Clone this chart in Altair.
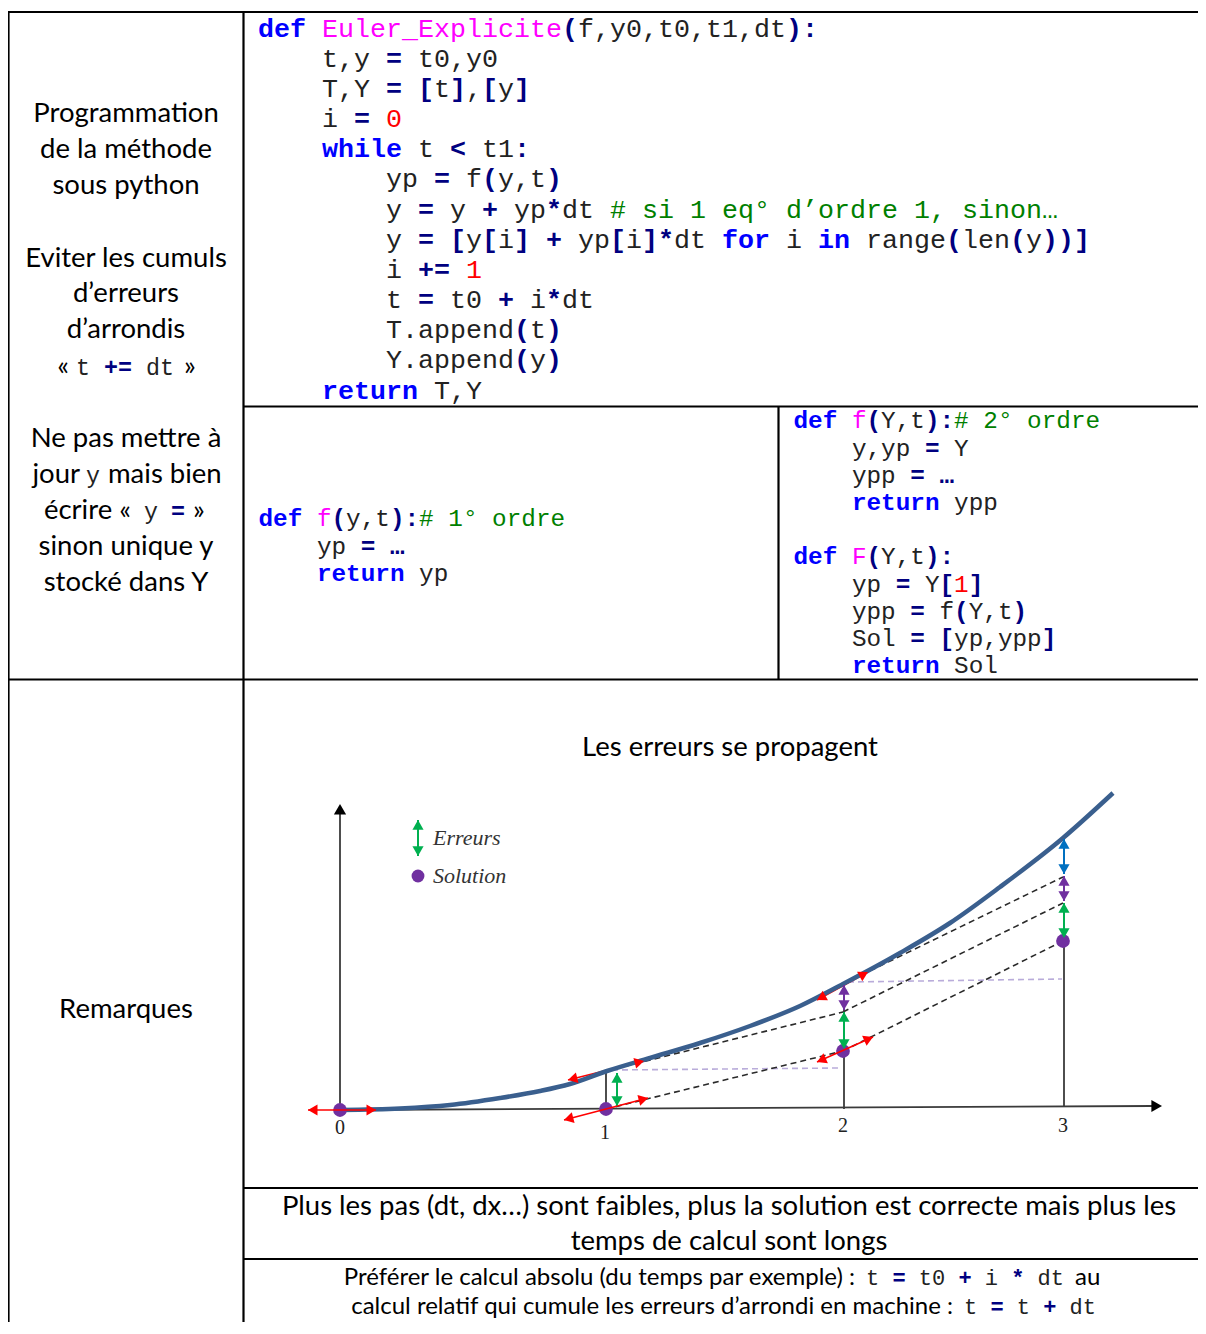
import math
import re
import altair as alt
import pandas as pd

# ======================= DATA (texts) =======================
code_main = [
    "def Euler_Explicite(f,y0,t0,t1,dt):",
    "    t,y = t0,y0",
    "    T,Y = [t],[y]",
    "    i = 0",
    "    while t < t1:",
    "        yp = f(y,t)",
    "        y = y + yp*dt # si 1 eq° d’ordre 1, sinon…",
    "        y = [y[i] + yp[i]*dt for i in range(len(y))]",
    "        i += 1",
    "        t = t0 + i*dt",
    "        T.append(t)",
    "        Y.append(y)",
    "    return T,Y",
]
code_order1 = ["def f(y,t):# 1° ordre", "    yp = …", "    return yp"]
code_order2 = [
    "def f(Y,t):# 2° ordre",
    "    y,yp = Y",
    "    ypp = …",
    "    return ypp",
    "",
    "def F(Y,t):",
    "    yp = Y[1]",
    "    ypp = f(Y,t)",
    "    Sol = [yp,ypp]",
    "    return Sol",
]

left_notes_a = ["Programmation", "de la méthode", "sous python"]
left_notes_b = ["Eviter les cumuls", "d’erreurs", "d’arrondis"]
left_note_b_code = ["«", "t += dt", "»"]
left_notes_c = ["Ne pas mettre à"]
left_note_c1 = ["jour", "y", "mais bien"]
left_note_c2 = ["écrire «", "y", "=", "»"]
left_notes_d = ["sinon unique y", "stocké dans Y"]
remarks_label = "Remarques"
chart_title = "Les erreurs se propagent"
remark_steps = [
    "Plus les pas (dt, dx…) sont faibles, plus la solution est correcte mais plus les",
    "temps de calcul sont longs",
]
remark_abs = ["Préférer le calcul absolu (du temps par exemple) :", "t = t0 + i * dt", "au"]
remark_rel = ["calcul relatif qui cumule les erreurs d’arrondi en machine :", "t = t + dt"]

legend_labels = ["Erreurs", "Solution"]
tick_labels = ["0", "1", "2", "3"]

# ================= DATA (diagram, drawing units) =================
curve_x = [340, 400, 450, 500, 540, 570, 607, 650, 700, 750, 800, 843, 900, 950, 1000, 1063, 1113]
curve_y = [1110, 1108.5, 1105, 1098, 1091, 1084, 1071, 1058, 1043, 1026, 1006, 984, 953, 923, 887, 838, 793]
solution_x = [340, 606, 843, 1063]
solution_y = [1110, 1109, 1051, 941]
tick_label_x = [340, 605, 843, 1063]
tick_label_y = [1134, 1139, 1132, 1132]
# Euler steps (dashed black)
step_x1 = [606, 843, 606, 843, 843]
step_y1 = [1109, 1051, 1071, 1012, 984]
step_x2 = [843, 1063, 843, 1063, 1063]
step_y2 = [1051, 941, 1012, 903, 877]
# reference levels (dashed lavender)
level_x1 = [612, 848]
level_y1 = [1070, 982]
level_x2 = [840, 1062]
level_y2 = [1068, 979]
# vertical lines at the steps
stem_x = [606, 844, 1064]
stem_y1 = [1109, 1109, 1106]
stem_y2 = [1071, 985, 941]
# red tangent arrows: start, end
tan_x1 = [308, 564, 568, 817, 817]
tan_y1 = [1110, 1120, 1080, 1062, 1000]
tan_x2 = [376, 648, 644, 873, 868]
tan_y2 = [1110, 1098, 1061, 1037, 972]
tan_under_curve = [False, False, True, False, True]
# error arrows: x, top, bottom, kind
err_x = [617, 844, 844, 1064, 1064, 1064, 418]
err_top = [1073, 985, 1012, 839, 876, 903, 820]
err_bot = [1106, 1010, 1049, 874, 901, 938, 856]
err_kind = ["green", "purple", "green", "blue", "purple", "green", "green"]
legend_dot = (418, 876)

# ======================= STYLES =======================
MONO = "Courier New, Nimbus Mono PS, FreeMono, Liberation Mono, monospace"
SANS = "Lato"
SERIF = "Liberation Serif"
STYLE = {
    "kw": ("#0000FF", True),
    "op": ("#000080", True),
    "fn": ("#FF00FF", False),
    "num": ("#FF0000", False),
    "cm": ("#008000", False),
    "tx": ("#222222", False),
}
ERR_COL = {"green": "#00B050", "purple": "#7030A0", "blue": "#0070C0"}
KW = {"def", "while", "return", "for", "in"}
OPS = set("=+*<()[]:…")


def style_chars(line):
    styles = ["tx"] * len(line)
    ci = line.find("#")
    end = ci if ci >= 0 else len(line)
    prev = None
    for m in re.finditer(r"[A-Za-z_][A-Za-z0-9_]*|\d+|\S", line[:end]):
        tok = m.group()
        if tok in KW:
            st = "kw"
        elif prev == "def":
            st = "fn"
        elif tok.isdigit():
            st = "num"
        elif tok in OPS:
            st = "op"
        else:
            st = "tx"
        for k in range(m.start(), m.end()):
            styles[k] = st
        prev = tok
    if ci >= 0:
        for k in range(ci, len(line)):
            styles[k] = "cm"
    return styles


def mono_tokens(line, x0, y, cw, size):
    rows = []
    styles = style_chars(line)
    i, n = 0, len(line)
    while i < n:
        if line[i] == " ":
            i += 1
            continue
        j = i
        while j < n and line[j] != " " and styles[j] == styles[i]:
            j += 1
        col, bold = STYLE[styles[i]]
        rows.append(dict(x=x0 + i * cw, y=y, text=line[i:j], color=col, isbold=bold, size=size))
        i = j
    return rows


mono_rows = []
for k, ln in enumerate(code_main):
    mono_rows += mono_tokens(ln, 258, 36.5 + 30.17 * k, 16, 26.67)
for k, ln in enumerate(code_order1):
    mono_rows += mono_tokens(ln, 258.5, 526 + 27.5 * k, 14.6, 24.33)
for k, ln in enumerate(code_order2):
    mono_rows += mono_tokens(ln, 793.5, 428.3 + 27.2 * k, 14.6, 24.33)
# inline code pieces
mono_rows += mono_tokens(left_note_b_code[1], 76, 375, 14, 23.33)
mono_rows += mono_tokens(left_note_c1[1], 86, 483, 14, 23.33)
mono_rows += mono_tokens(left_note_c2[1], 144, 519, 14, 23.33)
mono_rows += mono_tokens(left_note_c2[2], 171, 519, 14, 23.33)
mono_rows += mono_tokens(remark_abs[1], 866, 1285, 13.2, 22)
mono_rows += mono_tokens(remark_rel[1], 964, 1314, 13.2, 22)
mono_df = pd.DataFrame(mono_rows)

SZ = 27.5
sans_rows = []  # x, y, text, anchor, size


def sans(x, y, text, anchor="center", size=SZ):
    sans_rows.append(dict(x=x, y=y, text=text, anchor=anchor, size=size, color="#000000"))


for k, t in enumerate(left_notes_a):
    sans(126, 122 + 36 * k, t)
for k, t in enumerate(left_notes_b):
    sans(126, 266.5 + 35.8 * k, t)
sans(69, 375, left_note_b_code[0], "right")
sans(184, 375, left_note_b_code[2], "left")
for k, t in enumerate(left_notes_c):
    sans(126, 447, t)
sans(80, 483, left_note_c1[0], "right")
sans(108, 483, left_note_c1[2], "left")
sans(131, 519, left_note_c2[0], "right")
sans(193, 519, left_note_c2[3], "left")
for k, t in enumerate(left_notes_d):
    sans(126, 555 + 36 * k, t)
sans(126, 1018, remarks_label)
sans(730, 756, chart_title)
for k, t in enumerate(remark_steps):
    sans(729, 1215 + 35 * k, t)
sans(855, 1285, remark_abs[0], "right", 24)
sans(1075, 1285, remark_abs[2], "left", 24)
sans(953, 1314, remark_rel[0], "right", 24)
sans_df = pd.DataFrame(sans_rows)

# table grid
grid_df = pd.DataFrame(
    dict(
        x=[8.5, 7.5, 243.5, 243.5, 778.5, 7.5, 243.5, 243.5],
        x2=[8.5, 1198, 243.5, 1198, 778.5, 1198, 1198, 1198],
        y=[11.5, 12, 12, 406.5, 406.5, 679.5, 1188, 1259],
        y2=[1322, 12, 1322, 406.5, 679.5, 679.5, 1188, 1259],
    )
)

# ---------- diagram tables ----------
heads = []  # x, y, angle, color, size


def head(xt, yt, ux, uy, color, size):
    """triangle whose tip is at (xt, yt), pointing along (ux, uy) (screen coords)"""
    n = math.hypot(ux, uy)
    ux, uy = ux / n, uy / n
    h = 0.866 * math.sqrt(size) / 2
    ang = math.degrees(math.atan2(ux, -uy)) % 360
    heads.append(dict(x=xt - ux * h, y=yt - uy * h, angle=ang, color=color, size=size))


axis_df = pd.DataFrame(dict(x=[340, 340], y=[1110, 1110], x2=[1152, 340], y2=[1106, 812]))
head(1162, 1106, 1, 0, "#000000", 150)
head(340, 804, 0, -1, "#000000", 150)

tan_rows = []
for i in range(len(tan_x1)):
    x1, y1, x2, y2 = tan_x1[i], tan_y1[i], tan_x2[i], tan_y2[i]
    tan_rows.append(dict(x=x1, y=y1, x2=x2, y2=y2, under=tan_under_curve[i]))
    head(x2, y2, x2 - x1, y2 - y1, "#FF0000", 120)
    head(x1, y1, x1 - x2, y1 - y2, "#FF0000", 120)
tan_df = pd.DataFrame(tan_rows)

err_rows = []
for i in range(len(err_x)):
    col = ERR_COL[err_kind[i]]
    err_rows.append(dict(x=err_x[i], y=err_top[i], x2=err_x[i], y2=err_bot[i], color=col))
    head(err_x[i], err_top[i], 0, -1, col, 125)
    head(err_x[i], err_bot[i], 0, 1, col, 125)
err_df = pd.DataFrame(err_rows)
heads_df = pd.DataFrame(heads)

curve_df = pd.DataFrame(dict(x=curve_x, y=curve_y))
sol_df = pd.DataFrame(dict(x=solution_x, y=solution_y))
legend_dot_df = pd.DataFrame(dict(x=[legend_dot[0]], y=[legend_dot[1]]))
steps_df = pd.DataFrame(dict(x=step_x1, y=step_y1, x2=step_x2, y2=step_y2))
levels_df = pd.DataFrame(dict(x=level_x1, y=level_y1, x2=level_x2, y2=level_y2))
stems_df = pd.DataFrame(dict(x=stem_x, y=stem_y1, x2=stem_x, y2=stem_y2))
ticks_df = pd.DataFrame(dict(x=tick_label_x, y=tick_label_y, text=tick_labels))
legend_df = pd.DataFrame(dict(x=[433, 433], y=[845, 883], text=legend_labels))

# ======================= CHART =======================
XS = alt.Scale(domain=[8, 1198], nice=False, zero=False)
YS = alt.Scale(domain=[8, 1322], nice=False, zero=False, reverse=True)
X = alt.X("x:Q", scale=XS, axis=None)
Y = alt.Y("y:Q", scale=YS, axis=None)
X2 = alt.X2("x2:Q")
Y2 = alt.Y2("y2:Q")


def rules(df, **kw):
    return alt.Chart(df).mark_rule(**kw).encode(x=X, y=Y, x2=X2, y2=Y2)


layers = []
layers.append(rules(grid_df, color="#000000", strokeWidth=2.2))
layers.append(rules(levels_df, color="#B9ACDA", strokeWidth=1.6, strokeDash=[6, 4]))
layers.append(rules(steps_df, color="#2A2A2A", strokeWidth=1.6, strokeDash=[6, 4]))
layers.append(rules(stems_df, color="#3A3A3A", strokeWidth=1.8))
layers.append(rules(axis_df, color="#3A3A3A", strokeWidth=1.8))
layers.append(rules(tan_df[tan_df["under"]], color="#FF0000", strokeWidth=1.6))
layers.append(
    alt.Chart(curve_df)
    .mark_line(interpolate="monotone", color="#3A5F8E", strokeWidth=4.5)
    .encode(x=X, y=Y)
)
layers.append(
    alt.Chart(err_df)
    .mark_rule(strokeWidth=2)
    .encode(x=X, y=Y, x2=X2, y2=Y2, color=alt.Color("color:N", scale=None))
)
layers.append(alt.Chart(sol_df).mark_circle(size=190, color="#7030A0", opacity=1).encode(x=X, y=Y))
layers.append(alt.Chart(legend_dot_df).mark_circle(size=165, color="#7030A0", opacity=1).encode(x=X, y=Y))
layers.append(rules(tan_df[~tan_df["under"]], color="#FF0000", strokeWidth=1.6))
layers.append(
    alt.Chart(heads_df)
    .mark_point(shape="triangle-up", filled=True, opacity=1, strokeWidth=0)
    .encode(
        x=X,
        y=Y,
        angle=alt.Angle("angle:Q", scale=None),
        color=alt.Color("color:N", scale=None),
        size=alt.Size("size:Q", scale=None),
    )
)
layers.append(
    alt.Chart(ticks_df)
    .mark_text(font=SERIF, fontSize=20, align="center", baseline="alphabetic", color="#222222")
    .encode(x=X, y=Y, text="text:N")
)
layers.append(
    alt.Chart(legend_df)
    .mark_text(font=SERIF, fontSize=22, fontStyle="italic", align="left", baseline="alphabetic", color="#333333")
    .encode(x=X, y=Y, text="text:N")
)

for bold in (False, True):
    sub = mono_df[mono_df["isbold"] == bold]
    layers.append(
        alt.Chart(sub)
        .mark_text(font=MONO, fontWeight="bold" if bold else "normal", align="left", baseline="alphabetic")
        .encode(
            x=X,
            y=Y,
            text="text:N",
            color=alt.Color("color:N", scale=None),
            size=alt.Size("size:Q", scale=None),
        )
    )

for al in ("center", "left", "right"):
    sub = sans_df[sans_df["anchor"] == al]
    layers.append(
        alt.Chart(sub)
        .mark_text(font=SANS, align=al, baseline="alphabetic")
        .encode(
            x=X,
            y=Y,
            text="text:N",
            color=alt.Color("color:N", scale=None),
            size=alt.Size("size:Q", scale=None),
        )
    )

chart = (
    alt.layer(*layers)
    .properties(width=1190, height=1314, padding=0, autosize=alt.AutoSizeParams(type="none"), background="#FFFFFF")
    .configure_view(stroke=None)
)

chart.save("out.html", embed_options={"renderer": "svg", "actions": False})
